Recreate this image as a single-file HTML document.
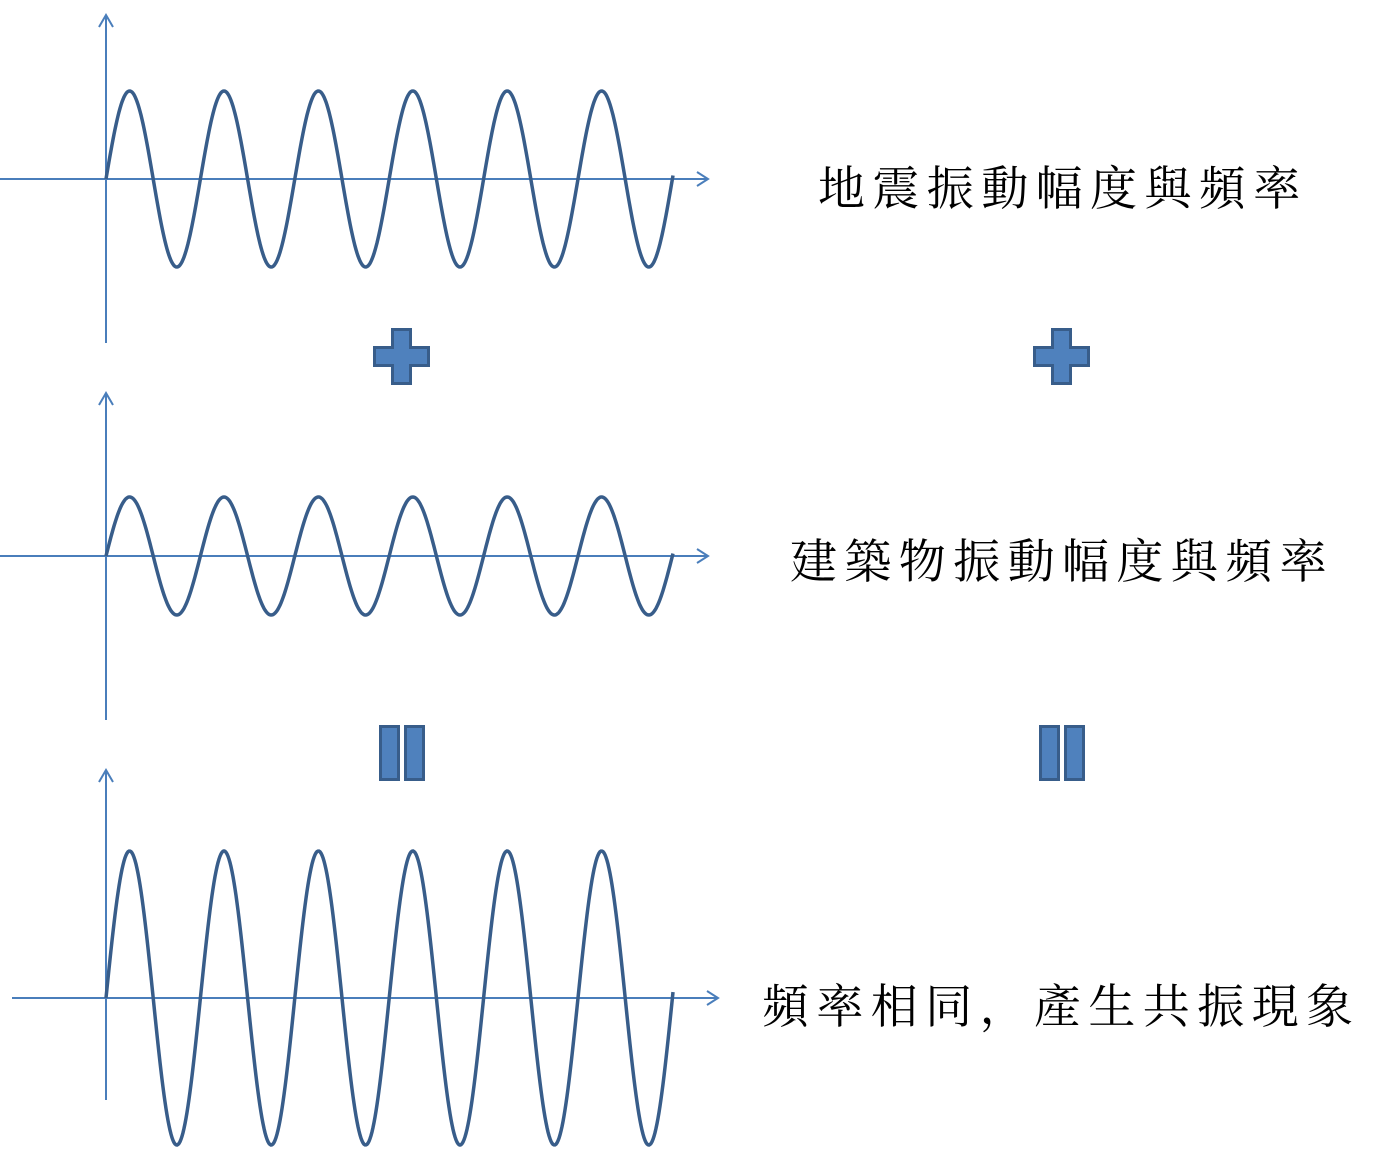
<!DOCTYPE html>
<html><head><meta charset="utf-8"><style>
html,body{margin:0;padding:0;background:#fff;}
body{width:1390px;height:1149px;position:relative;overflow:hidden;}
.t{position:absolute;font-family:"Liberation Serif","Noto Serif CJK SC",serif;font-size:47px;letter-spacing:7.4px;color:#000;white-space:nowrap;line-height:1;}
</style></head><body>
<svg id="s" width="1390" height="1149" style="position:absolute;left:0;top:0">
<g stroke="#4a7ebb" stroke-width="2" fill="none">
<line x1="0" y1="179" x2="708" y2="179"/><polyline points="697,172 708,179 697,186"/>
<line x1="106" y1="343" x2="106" y2="15"/><polyline points="99,27 106,15 113,27"/>
<line x1="0" y1="556" x2="708" y2="556"/><polyline points="697,549 708,556 697,563"/>
<line x1="106" y1="720" x2="106" y2="393"/><polyline points="99,405 106,393 113,405"/>
<line x1="12" y1="998" x2="718" y2="998"/><polyline points="707,991 718,998 707,1005"/>
<line x1="106" y1="1100" x2="106" y2="770"/><polyline points="99,782 106,770 113,782"/>
</g>
<g stroke="#385d8a" stroke-width="3" fill="#4f81bd">
<path d="M392.5,329.5h18v18h18v18h-18v18h-18v-18h-18v-18h18z"/>
<path d="M1052.5,329.5h18v18h18v18h-18v18h-18v-18h-18v-18h18z"/>
<rect x="380.5" y="726.5" width="18" height="53"/><rect x="405.5" y="726.5" width="18" height="53"/>
<rect x="1040.5" y="726.5" width="18" height="53"/><rect x="1065.5" y="726.5" width="18" height="53"/>
</g>
<g id="w" stroke="#385d8a" stroke-width="3.5" fill="none"></g>
</svg>
<div class="t" style="left:818px;top:167px">地震振動幅度與頻率</div>
<div class="t" style="left:790px;top:540px">建築物振動幅度與頻率</div>
<div class="t" style="left:762px;top:985px">頻率相同，產生共振現象</div>
<script>
var g=document.getElementById('w');
[[179,88],[556,59],[998,147]].forEach(function(a){
 var p=[];for(var x=106;x<=673;x+=1){p.push(x+','+(a[0]-a[1]*Math.sin(2*Math.PI*(x-106)/94.4)).toFixed(1));}
 var e=document.createElementNS('http://www.w3.org/2000/svg','polyline');e.setAttribute('points',p.join(' '));g.appendChild(e);
});
</script>
</body></html>
